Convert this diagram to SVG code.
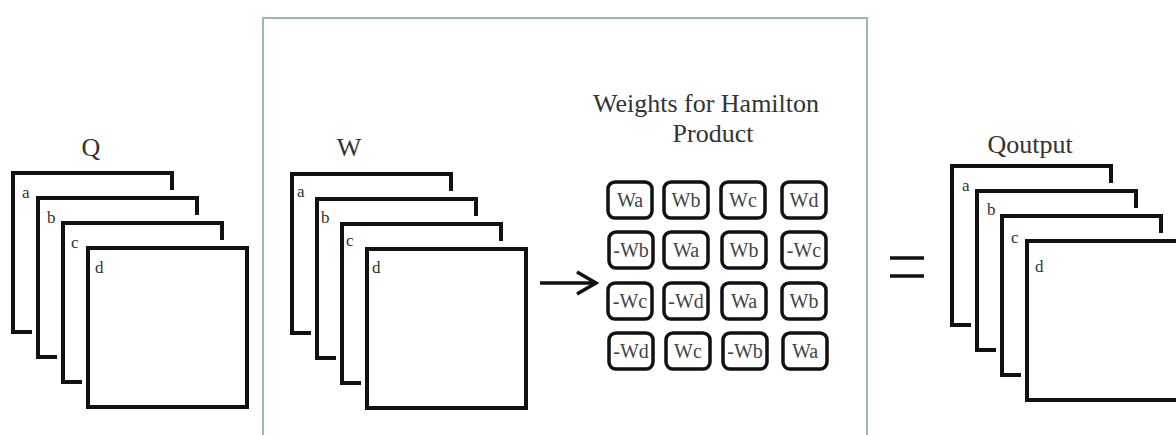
<svg xmlns="http://www.w3.org/2000/svg" width="1176" height="435" viewBox="0 0 1176 435">
<defs>
<style>
.frm{fill:none;stroke:#111;stroke-width:4;stroke-linejoin:miter}
.lbl{font-size:17px;fill:#333}
.ttl{font-size:26px;fill:#333;text-anchor:middle}
.box{fill:#fff;stroke:#111;stroke-width:3.5}
.bt{font-size:20px;fill:#444;text-anchor:middle}
.pnl{fill:#fff;stroke:#93bcb8;stroke-width:2}
.con{fill:none;stroke:#111;stroke-width:3.5}
</style>
</defs>
<rect width="1176" height="435" fill="#fff"/>
<g id="panel"><rect class="pnl" x="263" y="18" width="604" height="440"/></g>

<g id="Q" font-family="Liberation Serif, DejaVu Serif, serif">
<text class="ttl" x="91" y="156">Q</text>
<path class="frm" d="M32,332 H13 V173 H172 V190"/>
<text class="lbl" x="22" y="198">a</text>
<path class="frm" d="M57,357 H38 V198 H197 V215"/>
<text class="lbl" x="47" y="223">b</text>
<path class="frm" d="M82,382 H63 V223 H222 V240"/>
<text class="lbl" x="71" y="248">c</text>
<rect class="frm" x="88" y="248" width="159" height="159"/>
<text class="lbl" x="95" y="273">d</text>
</g>

<g id="W" font-family="Liberation Serif, DejaVu Serif, serif">
<text class="ttl" x="349" y="156">W</text>
<path class="frm" d="M311,333 H292 V174 H451 V191"/>
<text class="lbl" x="297" y="197">a</text>
<path class="frm" d="M336,358 H317 V199 H476 V216"/>
<text class="lbl" x="321" y="223">b</text>
<path class="frm" d="M361,383 H342 V224 H501 V241"/>
<text class="lbl" x="346" y="246">c</text>
<rect class="frm" x="367" y="249" width="159" height="159"/>
<text class="lbl" x="372" y="273">d</text>
</g>

<g id="weights" font-family="Liberation Serif, DejaVu Serif, serif">
<text class="ttl" x="706" y="112">Weights for Hamilton</text>
<text class="ttl" x="713" y="142">Product</text>
<rect class="box" x="608" y="182" width="44" height="36" rx="7"/><text class="bt" x="630" y="207">Wa</text>
<rect class="box" x="664" y="182" width="44" height="36" rx="7"/><text class="bt" x="686" y="207">Wb</text>
<rect class="box" x="721" y="182" width="44" height="36" rx="7"/><text class="bt" x="743" y="207">Wc</text>
<rect class="box" x="782" y="182" width="44" height="36" rx="7"/><text class="bt" x="804" y="207">Wd</text>

<rect class="box" x="609" y="232" width="44" height="36" rx="7"/><text class="bt" x="631" y="257">-Wb</text>
<rect class="box" x="664" y="232" width="44" height="36" rx="7"/><text class="bt" x="686" y="257">Wa</text>
<rect class="box" x="722" y="232" width="44" height="36" rx="7"/><text class="bt" x="744" y="257">Wb</text>
<rect class="box" x="782" y="232" width="44" height="36" rx="7"/><text class="bt" x="804" y="257">-Wc</text>

<rect class="box" x="608" y="283" width="44" height="36" rx="7"/><text class="bt" x="630" y="308">-Wc</text>
<rect class="box" x="664" y="283" width="44" height="36" rx="7"/><text class="bt" x="686" y="308">-Wd</text>
<rect class="box" x="722" y="283" width="44" height="36" rx="7"/><text class="bt" x="744" y="308">Wa</text>
<rect class="box" x="782" y="283" width="44" height="36" rx="7"/><text class="bt" x="804" y="308">Wb</text>

<rect class="box" x="609" y="333" width="44" height="36" rx="7"/><text class="bt" x="631" y="358">-Wd</text>
<rect class="box" x="666" y="333" width="44" height="36" rx="7"/><text class="bt" x="688" y="358">Wc</text>
<rect class="box" x="723" y="333" width="44" height="36" rx="7"/><text class="bt" x="745" y="358">-Wb</text>
<rect class="box" x="783" y="333" width="44" height="36" rx="7"/><text class="bt" x="805" y="358">Wa</text>
</g>

<g id="Qoutput" font-family="Liberation Serif, DejaVu Serif, serif">
<text class="ttl" x="1030" y="153">Qoutput</text>
<path class="frm" d="M971,325 H952 V166 H1111 V183"/>
<text class="lbl" x="962" y="191">a</text>
<path class="frm" d="M996,350 H977 V191 H1136 V208"/>
<text class="lbl" x="987" y="215">b</text>
<path class="frm" d="M1021,375 H1002 V216 H1161 V233"/>
<text class="lbl" x="1011" y="243">c</text>
<rect class="frm" x="1027" y="241" width="159" height="159"/>
<text class="lbl" x="1035" y="272">d</text>
</g>

<g id="connectors">
<path class="con" d="M540,283 H595"/>
<path class="con" d="M577,272 L596,283 L577,294"/>
<path class="con" d="M890,258 H924 M890,276 H924"/>
</g>
</svg>
